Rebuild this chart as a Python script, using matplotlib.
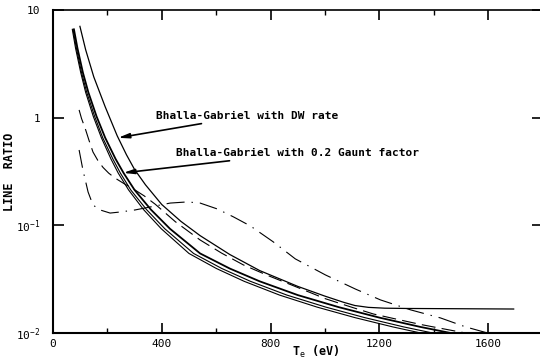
import numpy as np
import matplotlib
matplotlib.use('Agg')
import matplotlib.pyplot as plt

plt.rcParams['font.family'] = 'DejaVu Sans Mono'
plt.rcParams['mathtext.fontset'] = 'custom'
plt.rcParams['mathtext.rm'] = 'DejaVu Sans Mono'
plt.rcParams['mathtext.it'] = 'DejaVu Sans Mono'
plt.rcParams['mathtext.default'] = 'rm'
plt.rcParams['lines.scale_dashes'] = False

# Bhalla-Gabriel with DW rate (levels off at the bottom right)
dw_x = [99, 120, 150, 192, 236, 270, 300, 340, 400, 470, 541, 650, 760, 900,
        1000, 1068, 1110, 1160, 1220, 1300, 1500, 1694]
dw_y = [7.05, 4.28, 2.39, 1.26, 0.679, 0.453, 0.330, 0.238, 0.156, 0.109,
        0.0802, 0.0536, 0.0380, 0.0271, 0.0220, 0.0193, 0.0180, 0.0173,
        0.0170, 0.0169, 0.0168, 0.0167]

# Bhalla-Gabriel with 0.2 Gaunt factor (bold)
gaunt_x = [77, 90, 110, 130, 160, 192, 230, 260, 300, 360, 430, 541, 650, 760,
           900, 1050, 1200, 1350, 1462]
gaunt_y = [6.61, 4.41, 2.62, 1.72, 1.03, 0.65, 0.414, 0.305, 0.213, 0.140,
           0.093, 0.0548, 0.0397, 0.0302, 0.0225, 0.0174, 0.0139, 0.0114, 0.0100]

# the two other solid curves
s3_x = [73.5, 86, 105, 124, 153, 183, 220, 248, 286, 344, 411, 517, 621, 726,
        860, 1003, 1146, 1289, 1396]
s3_y = gaunt_y
s4_x = [71, 83, 102, 120, 148, 178, 213, 240, 278, 333, 398, 500, 601, 703,
        833, 971, 1110, 1249, 1352]
s4_y = gaunt_y

# long dashed curve
dash_x = [96, 105, 118, 132, 147, 165, 184, 205, 228, 260, 295, 335, 376, 450,
          541, 620, 700, 790, 873, 1002, 1100, 1179, 1260, 1352, 1430, 1517]
dash_y = [1.18, 0.98, 0.80, 0.62, 0.48, 0.40, 0.345, 0.305, 0.275, 0.245, 0.218,
          0.188, 0.157, 0.108, 0.0731, 0.0552, 0.0429, 0.0342, 0.0282, 0.0208,
          0.0173, 0.0150, 0.0135, 0.0120, 0.0110, 0.0100]

# dash-dot curve
dd_x = [96, 110, 129, 147, 173, 210, 247, 302, 357, 431, 494, 541, 604, 663, 726,
        810, 891, 1002, 1112, 1204, 1315, 1425, 1517, 1598]
dd_y = [0.501, 0.327, 0.204, 0.1545, 0.139, 0.130, 0.133, 0.139, 0.148, 0.161,
        0.165, 0.161, 0.142, 0.120, 0.0986, 0.0702, 0.0488, 0.0346, 0.0256,
        0.0203, 0.0164, 0.0138, 0.0114, 0.0100]

x_ticks = [0, 400, 800, 1200, 1600]
y_ticks = [0.01, 0.1, 1, 10]
y_tick_labels = ['$10^{-2}$', '$10^{-1}$', '1', '10']

fig = plt.figure(figsize=(5.4, 3.64), dpi=100)
ax = fig.add_axes([53 / 540, 31 / 364, 489.5 / 540, 323 / 364])

ax.plot(dw_x, dw_y, color='k', lw=0.9)
ax.plot(gaunt_x, gaunt_y, color='k', lw=1.3)
ax.plot(s3_x, s3_y, color='k', lw=0.8)
ax.plot(s4_x, s4_y, color='k', lw=0.8)
ax.plot(dash_x, dash_y, color='k', lw=0.8, dashes=[10, 4.5])
ax.plot(dd_x, dd_y, color='k', lw=0.8, dashes=[13, 5, 1, 5])

ax.set_yscale('log')
ax.set_xlim(0, 1800)
ax.set_ylim(0.01, 10)
ax.set_xticks(x_ticks)
ax.set_xticks(np.arange(200, 1800, 400), minor=True)
ax.set_yticks(y_ticks)
ax.set_yticklabels(y_tick_labels)
ax.yaxis.set_minor_locator(matplotlib.ticker.NullLocator())

ax.tick_params(which='major', direction='in', length=7, width=1.2,
               top=True, right=True, labelsize=8, pad=4)
ax.tick_params(axis='y', which='major', length=8, pad=9)
ax.tick_params(which='minor', direction='in', length=3.5, width=1.0, top=True)
for side in ['left', 'bottom']:
    ax.spines[side].set_linewidth(1.5)
ax.spines['top'].set_linewidth(1.2)

ax.set_ylabel('LINE  RATIO', fontsize=8.5, fontweight='bold')
ax.yaxis.set_label_coords(-0.076, 0.5)
ax.set_xlabel('T$_{e}$ (eV)', fontsize=8.5, fontweight='bold')
ax.xaxis.set_label_coords(0.536, -0.035)

arrow = dict(arrowstyle='-|>,head_length=0.8,head_width=0.18', color='k',
             lw=1.2, shrinkA=0, shrinkB=0)
ax.annotate('Bhalla-Gabriel with DW rate', xy=(239, 0.65), xytext=(379, 1.04),
            ha='left', va='center', fontsize=8, fontweight='bold',
            arrowprops=arrow)
ax.annotate('Bhalla-Gabriel with 0.2 Gaunt factor', xy=(258, 0.307),
            xytext=(453, 0.47), ha='left', va='center', fontsize=8,
            fontweight='bold', arrowprops=arrow)

fig.savefig('out.png', dpi=100)
